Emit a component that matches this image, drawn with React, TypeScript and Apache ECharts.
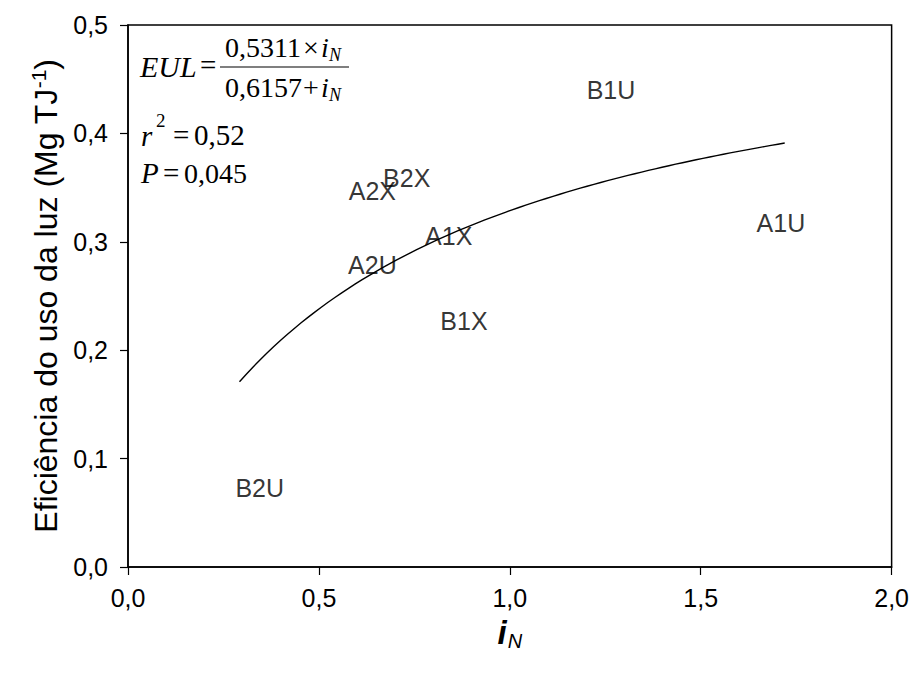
import React, { useEffect, useRef } from "react";
import * as echarts from "echarts";

const labels = ["B1U", "A1U", "B2X", "A2X", "A1X", "A2U", "B1X", "B2U"];
const xValues = [1.265, 1.71, 0.73, 0.64, 0.84, 0.64, 0.88, 0.345];
const yValues = [0.44, 0.317, 0.359, 0.347, 0.305, 0.279, 0.227, 0.073];

const fitA = 0.5311;
const fitB = 0.6157;
const fitXStart = 0.292;
const fitXEnd = 1.72;
const fitSteps = 80;

const xTicks = [0, 0.5, 1.0, 1.5, 2.0];
const yTicks = [0, 0.1, 0.2, 0.3, 0.4, 0.5];

const fmt = (v: number) => v.toFixed(1).replace(".", ",");

export default function App() {
  const ref = useRef<HTMLDivElement>(null);
  useEffect(() => {
    if (!ref.current) return;
    const chart = echarts.init(ref.current, null, { renderer: "svg" });
    const fit: number[][] = [];
    for (let i = 0; i <= fitSteps; i++) {
      const x = fitXStart + ((fitXEnd - fitXStart) * i) / fitSteps;
      fit.push([x, (fitA * x) / (fitB + x)]);
    }
    const serif = "Liberation Serif";
    const sans = "Liberation Sans";
    const t = (x: number, y: number, text: string, size: number, italic = false) => ({
      type: "text",
      x,
      y,
      style: {
        text,
        font: `${italic ? "italic " : ""}${size}px ${serif}`,
        fill: "#000",
        verticalAlign: "middle",
        align: "left",
      },
    });
    chart.setOption({
      animation: false,
      backgroundColor: "#fff",
      grid: {
        left: 128,
        right: 18,
        top: 25,
        bottom: 108,
        show: true,
        borderColor: "#000",
        borderWidth: 1.5,
        backgroundColor: "transparent",
      },
      xAxis: {
        type: "value",
        min: xTicks[0],
        max: xTicks[xTicks.length - 1],
        interval: 0.5,
        axisLine: { show: true, lineStyle: { color: "#000", width: 1.5 } },
        axisTick: { show: true, inside: false, length: 8, lineStyle: { color: "#000", width: 1.2 } },
        splitLine: { show: false },
        axisLabel: {
          formatter: fmt,
          color: "#000",
          fontFamily: sans,
          fontSize: 25,
          margin: 18,
        },
        name: "{b|i}{s|N}",
        nameLocation: "middle",
        nameGap: 46,
        nameTextStyle: {
          rich: {
            b: { fontFamily: sans, fontSize: 33, fontWeight: "bold", fontStyle: "italic", color: "#000" },
            s: { fontFamily: sans, fontSize: 20, fontStyle: "italic", color: "#000", padding: [18, 0, 0, 1] },
          },
        },
      },
      yAxis: {
        type: "value",
        min: yTicks[0],
        max: yTicks[yTicks.length - 1],
        interval: 0.1,
        axisLine: { show: true, lineStyle: { color: "#000", width: 1.5 } },
        axisTick: { show: true, inside: false, length: 8, lineStyle: { color: "#000", width: 1.2 } },
        splitLine: { show: false },
        axisLabel: {
          formatter: fmt,
          color: "#000",
          fontFamily: sans,
          fontSize: 25,
          margin: 20,
        },
        name: "{a|Eficiência do uso da luz (Mg TJ}{sup|-1}{a|)}",
        nameLocation: "middle",
        nameGap: 63,
        nameRotate: 90,
        nameTextStyle: {
          rich: {
            a: { fontFamily: sans, fontSize: 32, color: "#000" },
            sup: { fontFamily: sans, fontSize: 21, color: "#000", padding: [0, 0, 15, 0] },
          },
        },
      },
      series: [
        {
          type: "line",
          data: fit,
          showSymbol: false,
          symbol: "none",
          lineStyle: { color: "#000", width: 1.4 },
          z: 2,
        },
        {
          type: "scatter",
          data: labels.map((n, i) => ({ name: n, value: [xValues[i], yValues[i]] })),
          symbolSize: 1,
          itemStyle: { color: "transparent" },
          label: {
            show: true,
            position: "inside",
            formatter: (p: any) => p.name,
            fontFamily: sans,
            fontSize: 25,
            color: "#000",
          },
          z: 3,
        },
      ],
      graphic: [
        t(140, 66, "EUL", 30, true),
        t(200, 65, "=", 29),
        t(225, 47, "0,5311", 28),
        t(303, 47, "×", 28),
        t(321, 47, "i", 28, true),
        t(329, 55, "N", 18, true),
        {
          type: "line",
          shape: { x1: 220, y1: 67, x2: 349, y2: 67 },
          style: { stroke: "#000", lineWidth: 1.2 },
        },
        t(225, 87, "0,6157", 28),
        t(303, 87, "+", 28),
        t(321, 87, "i", 28, true),
        t(329, 95, "N", 18, true),
        t(141, 136, "r", 29, true),
        t(156, 120, "2", 19),
        t(173, 135, "=", 29),
        t(194, 135, "0,52", 29),
        t(141, 173, "P", 29, true),
        t(163, 173, "=", 29),
        t(184, 173, "0,045", 28),
      ],
    });
    return () => chart.dispose();
  }, []);
  return (
    <div
      ref={ref}
      style={{ position: "absolute", left: 0, top: 0, width: 912, height: 675 }}
    />
  );
}
